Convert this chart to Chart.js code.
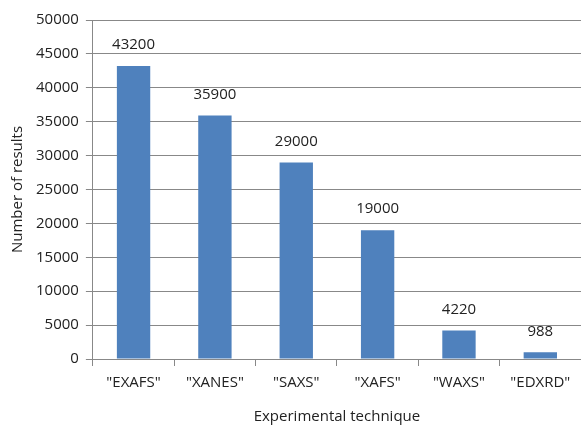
<!DOCTYPE html>
<html>
<head>
<meta charset="utf-8">
<script src="https://cdn.jsdelivr.net/npm/chart.js@4/dist/chart.umd.min.js"></script>
<style>
  html, body { margin: 0; padding: 0; background: #fff; }
  #wrap { width: 581px; height: 426px; }
</style>
</head>
<body>
<div id="wrap"><canvas id="chart"></canvas></div>
<script>
const techniques = ['"EXAFS"', '"XANES"', '"SAXS"', '"XAFS"', '"WAXS"', '"EDXRD"'];
const results = [43200, 35900, 29000, 19000, 4220, 988];

const fontFamily = '"Open Sans", sans-serif';

// draws the value above each bar
const valueLabels = {
    id: 'valueLabels',
    afterDatasetsDraw(chart) {
        const ctx = chart.ctx;
        const meta = chart.getDatasetMeta(0);
        ctx.save();
        ctx.font = '15px ' + fontFamily;
        ctx.fillStyle = '#222';
        ctx.textAlign = 'center';
        ctx.textBaseline = 'middle';
        meta.data.forEach((bar, i) => {
            ctx.fillText(String(results[i]), bar.x, bar.y - 21);
        });
        ctx.restore();
    }
};

new Chart(document.getElementById('chart').getContext('2d'), {
    type: 'bar',
    data: {
        labels: techniques,
        datasets: [{
            data: results,
            backgroundColor: '#4F81BD',
            categoryPercentage: 1,
            barPercentage: 0.41
        }]
    },
    options: {
        responsive: true,
        maintainAspectRatio: false,
        animation: false,
        layout: { padding: { top: 20, right: 0, left: 5, bottom: 0 } },
        plugins: {
            legend: { display: false },
            tooltip: { enabled: false }
        },
        scales: {
            x: {
                grid: { drawOnChartArea: false, offset: true, tickLength: 7, color: '#888' },
                border: { color: '#888' },
                ticks: { color: '#222', font: { family: fontFamily, size: 15 }, padding: 8 },
                title: { display: true, text: 'Experimental technique', color: '#222', font: { family: fontFamily, size: 15 }, padding: { top: 8, bottom: 0 } }
            },
            y: {
                min: 0,
                max: 50000,
                grid: { color: '#888', tickLength: 7 },
                border: { color: '#888' },
                ticks: {
                    stepSize: 5000, color: '#222', font: { family: fontFamily, size: 15 }, padding: 7,
                    callback: v => String(v)
                },
                title: { display: true, text: 'Number of results', color: '#222', font: { family: fontFamily, size: 15 }, padding: { bottom: 2 } }
            }
        }
    },
    plugins: [valueLabels]
});
</script>
</body>
</html>
